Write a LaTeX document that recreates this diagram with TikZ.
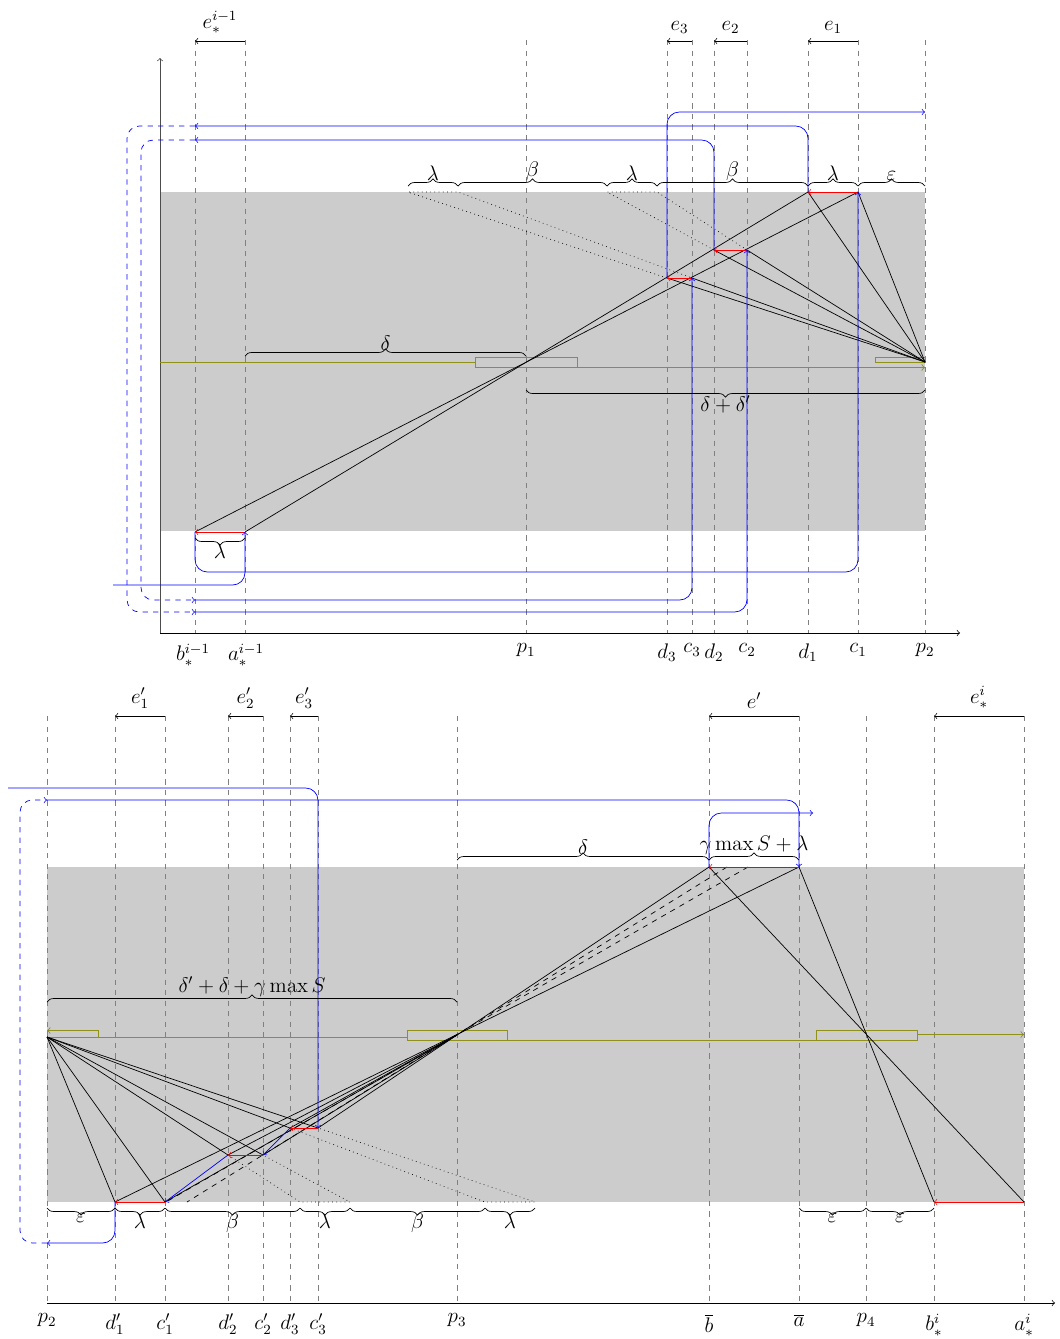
\documentclass[tikz,border=0pt]{standalone}
\usetikzlibrary{decorations.pathreplacing}
\definecolor{moss}{RGB}{145,145,25}

\begin{document}
\begin{tikzpicture}[x=0.02cm,y=-0.02cm,>=to,font=\large,
  guide/.style={gray,dashed},
  jump/.style={red,->},
  walk/.style={blue,->,rounded corners=7pt},
  hop/.style={blue,dashed,->,rounded corners=7pt},
  ray/.style={moss,line width=0.5pt},
  upbrace/.style={decorate,decoration={brace,amplitude=4pt}},
  downbrace/.style={decorate,decoration={brace,amplitude=4pt,mirror}}]
  \useasboundingbox (0,0) rectangle (1059,1339);
  % bands
  \fill[gray!40] (160,192) rectangle (925,531);
  \fill[gray!40] (47,867) rectangle (1024,1202);
  % guides
  \foreach \x in {195,245,526,667,692,714,747,808,858,925}
    \draw[guide] (\x,40) -- (\x,633);
  \foreach \x in {47,115,165,228,263,290,318,457,709,799,866,934,1024}
    \draw[guide] (\x,716) -- (\x,1303);
  % axes
  \draw[->,black!70] (160,633) -- (160,58);
  \draw[->] (160,633) -- (960,633);
  \draw[->] (47,1303) -- (1055,1303);
  \foreach \x/\t [count=\k] in {193/{b_*^{i-1}},246/{a_*^{i-1}},526/p_1,667/d_3,692/c_3,
      714/d_2,747/c_2,808/d_1,858/c_1,925/p_2}
    \node[below=6pt,inner sep=0pt] (tx\k) at (\x,633) {$\t$};
  \foreach \x/\t [count=\k] in {47/p_2,115/d'_1,165/c'_1,228/d'_2,263/c'_2,290/d'_3,318/c'_3,
      457/p_3,709/\overline{b},799/\overline{a},866/p_4,934/b_*^i,1024/a_*^i}
    \node[below=6pt,inner sep=0pt] (bx\k) at (\x,1303) {$\t$};

  % points, upper part
  \coordinate (bo) at (195,532); \coordinate (ao) at (245,532);
  \coordinate (p1) at (526,362); \coordinate (p2) at (925,362);
  \coordinate (d3) at (667,278); \coordinate (c3) at (692,278);
  \coordinate (d2) at (714,250); \coordinate (c2) at (747,250);
  \coordinate (d1) at (808,192); \coordinate (c1) at (858,192);
  % points, lower part
  \coordinate (q2) at (47,1037); \coordinate (p3) at (457,1035); \coordinate (p4) at (866,1035);
  \coordinate (dd1) at (115,1202); \coordinate (cc1) at (165,1202);
  \coordinate (dd2) at (228,1155); \coordinate (cc2) at (263,1155);
  \coordinate (dd3) at (290,1128); \coordinate (cc3) at (318,1128);
  \coordinate (bb) at (709,867); \coordinate (aa) at (799,867);
  \coordinate (bi) at (934,1202); \coordinate (ai) at (1024,1202);
  \coordinate (s1) at (727,867); \coordinate (s2) at (748,867);
  \coordinate (s1b) at (187,1202); \coordinate (s2b) at (166,1202);

  % olive line with boxes
  \draw[ray] (160,362.5) -- (475.5,362.5);
  \draw[ray] (475.5,357.5) rectangle (577.5,367.5);
  \draw[ray,->] (577.5,367.5) -- (925,367.5);
  \draw[ray] (875.5,357.5) rectangle (925,362.5);
  \draw[ray] (47,1030.5) rectangle (98.5,1037.5);
  \draw[ray,->] (98.5,1030.5) -- (47,1030.5);
  \draw[ray] (98.5,1037.5) -- (407.5,1037.5);
  \draw[ray] (407.5,1030.5) rectangle (507.5,1040.5);
  \draw[ray] (507.5,1040.5) -- (816.5,1040.5);
  \draw[ray] (816.5,1030.5) rectangle (917.5,1040.5);
  \draw[ray,->] (917.5,1034.5) -- (1024,1034.5);

  % black lines
  \draw (ao) -- (d1);
  \draw (bo) -- (c1);
  \foreach \t in {d1,c1,d2,c2,d3,c3}
    \draw (p2) -- (\t);
  \foreach \t in {dd1,cc1,dd2,cc2,dd3,cc3}
    \draw (q2) -- (\t);
  \draw (aa) -- (dd1);
  \draw (bb) -- (p3);
  \foreach \t in {cc1,dd2,cc2,dd3,cc3}
    \draw (p3) -- (\t);
  \draw[dashed] (s1) -- (s1b);
  \draw[dashed] (s2) -- (s2b);
  \draw (ai) -- (bb);
  \draw (bi) -- (aa);

  % dotted traces
  \draw[dotted] (d3) -- (408,192) -- (458,192) -- (c3);
  \draw[dotted] (d2) -- (607,192) -- (657,192) -- (c2);
  \draw[dotted] (dd2) -- (300,1202) -- (350,1202) -- (cc2);
  \draw[dotted] (dd3) -- (485,1202) -- (535,1202) -- (cc3);

  % red jumps
  \draw[jump] (c1) -- (d1);
  \draw[jump] (c2) -- (d2);
  \draw[jump] (c3) -- (d3);
  \draw[jump] (ao) -- (bo);
  \draw[jump] (cc3) -- (dd3);
  \draw[jump] (cc2) -- (dd2);
  \draw[jump] (cc1) -- (dd1);
  \draw[jump] (aa) -- (bb);
  \draw[jump] (ai) -- (bi);

  % blue walks, upper part
  \draw[walk] (113,585) -| (ao);
  \draw[walk] (bo) |- (858,572) -- (c1);
  \draw[walk] (d1) |- (195,126);
  \draw[hop] (195,126) -- (127,126) -- (127,612) -- (195,612);
  \draw[walk] (195,612) -| (c2);
  \draw[walk] (d2) |- (195,140);
  \draw[hop] (195,140) -- (141,140) -- (141,600) -- (195,600);
  \draw[walk] (195,600) -| (c3);
  \draw[walk] (d3) |- (925,112);
  % blue walks, lower part
  \draw[walk] (8,788) -| (cc3);
  \draw[blue,->] (dd3) -- (cc2);
  \draw[blue,->] (dd2) -- (cc1);
  \draw[walk] (dd1) |- (47,1243);
  \draw[hop] (47,1243) -- (20,1243) -- (20,800) -- (47,800);
  \draw[walk] (47,800) -| (aa);
  \draw[walk] (bb) |- (813,813);

  % braces
  \foreach \l/\r/\t [count=\k] in {408/458/\lambda,458/607/\beta,607/657/\lambda,
      657/808/\beta,808/858/\lambda,858/925/\varepsilon}
    \draw[upbrace] (\l,186) -- (\r,186) node[midway,above=2pt,inner sep=1pt] (tb\k) {$\t$};
  \foreach \l/\r/\t [count=\k] in {47/115/\varepsilon,115/165/\lambda,165/300/\beta,
      300/350/\lambda,350/485/\beta,485/535/\lambda,799/866/\varepsilon,866/934/\varepsilon}
    \draw[downbrace] (\l,1208) -- (\r,1208) node[midway,below=2pt,inner sep=1pt] (bb\k) {$\t$};
  \draw[downbrace] (195,538) -- (245,538) node[midway,below=2pt,inner sep=1pt] (lam) {$\lambda$};
  \draw[upbrace] (245,356) -- (526,356) node[midway,above=2pt,inner sep=1pt] (del) {$\delta$};
  \draw[downbrace] (526,390) -- (925,390) node[midway,below=2pt,inner sep=1pt] (deld) {$\delta+\delta'$};
  \draw[upbrace] (457,860) -- (709,860) node[midway,above=2pt,inner sep=1pt] (delb) {$\delta$};
  \draw[upbrace] (709,860) -- (799,860) node[midway,above=2pt,inner sep=1pt] (gam) {$\gamma\max S+\lambda$};
  \draw[upbrace] (47,1002) -- (457,1002) node[midway,above=2pt,inner sep=1pt] (sum) {$\delta'+\delta+\gamma\max S$};

  % edge labels
  \foreach \r/\l/\t [count=\k] in {245/195/{e_*^{i-1}},692/667/e_3,747/714/e_2,858/808/e_1}
    \draw[->] (\r,41) -- (\l,41) node[midway,above=3pt,inner sep=1pt] (te\k) {$\t$};
  \foreach \r/\l/\t [count=\k] in {165/115/e'_1,263/228/e'_2,318/290/e'_3,799/709/e',1024/934/e_*^i}
    \draw[->] (\r,716) -- (\l,716) node[midway,above=3pt,inner sep=1pt] (be\k) {$\t$};
\end{tikzpicture}
\end{document}
